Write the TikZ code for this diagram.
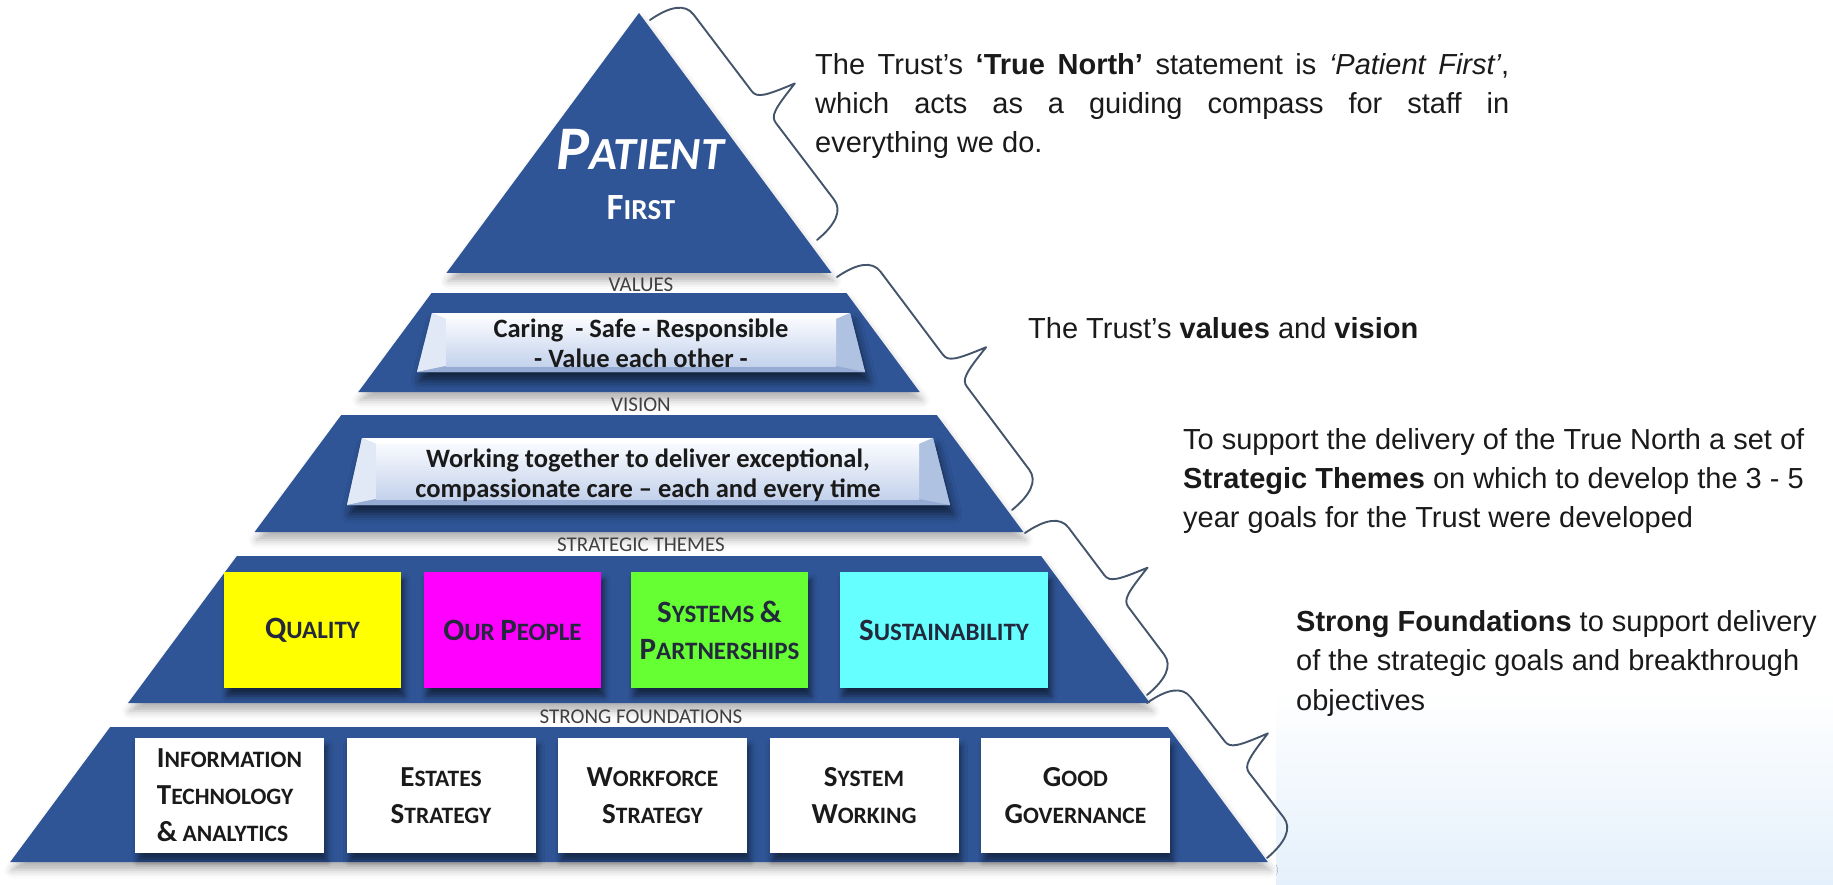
\documentclass[tikz,border=0pt]{standalone}
\usepackage{fontspec}
\setmainfont{Liberation Sans}
\newfontfamily\calib{Carlito}
\usetikzlibrary{shadows.blur}
\hbadness=10000 \hfuzz=5pt \vbadness=10000
\definecolor{pyr}{RGB}{47,85,151}
\definecolor{bracec}{RGB}{68,84,106}
\definecolor{txt}{RGB}{26,26,26}
\definecolor{lblc}{RGB}{64,64,64}
\definecolor{thtxt}{RGB}{35,40,60}
\definecolor{qual}{RGB}{255,255,0}
\definecolor{peop}{RGB}{255,0,255}
\definecolor{syst}{RGB}{102,255,51}
\definecolor{sust}{RGB}{102,255,255}
\definecolor{bgblue}{RGB}{228,240,251}
\definecolor{bevleft}{RGB}{226,233,246}
\definecolor{bevright}{RGB}{176,194,226}
\definecolor{bevbot}{RGB}{150,172,212}
\definecolor{facetop}{RGB}{248,250,254}
\definecolor{facebot}{RGB}{196,210,236}
\newcommand\thb[1]{{\fontsize{31}{37}\selectfont #1}}
\newcommand\fdb[1]{{\fontsize{29}{37}\selectfont #1}}
\newcommand\imgbrace[4]{%
  \pgfmathsetmacro\bdx{#3-#1}\pgfmathsetmacro\bdy{#4-#2}%
  \pgfmathsetmacro\bL{veclen(\bdx,\bdy)}%
  \pgfmathsetmacro\bux{\bdx/\bL}\pgfmathsetmacro\buy{\bdy/\bL}%
  \pgfmathsetmacro\bM{\bL/2}%
  \begin{scope}[shift={(#1,#2)}, x={(\bux pt,-\buy pt)}, y={(\buy pt,\bux pt)}]
    \draw[bracestyle] (0,0) .. controls (1,24) and (8,38) .. (22,38)
      -- ({\bM-20},38) .. controls ({\bM-11},38) and ({\bM-8},46) .. (\bM,77)
      .. controls ({\bM+8},46) and ({\bM+11},38) .. ({\bM+20},38)
      -- ({\bL-22},38) .. controls ({\bL-8},38) and ({\bL-1},24) .. (\bL,0);
  \end{scope}}
\newcommand\bevelbox[6]{% TLx TRx BRx BLx topy boty
  \path[fill=bevright, blur shadow={shadow xshift=3pt, shadow yshift=-9pt, shadow blur radius=9pt, shadow opacity=60}]
    (#1,#5) -- (#2,#5) -- (#3,#6) -- (#4,#6) -- cycle;
  \fill[white] (#1,#5) -- (#2,#5) -- ({#2-14},{#5+6}) -- ({#1+14},{#5+6}) -- cycle;
  \fill[bevleft] (#1,#5) -- ({#1+14},{#5+6}) -- ({#1+14},{#6-6}) -- (#4,#6) -- cycle;
  \fill[bevright] (#2,#5) -- (#3,#6) -- ({#2-14},{#6-6}) -- ({#2-14},{#5+6}) -- cycle;
  \fill[bevbot] (#4,#6) -- (#3,#6) -- ({#2-14},{#6-6}) -- ({#1+14},{#6-6}) -- cycle;
  \shade[top color=facetop, bottom color=facebot] ({#1+14},{#5+6}) rectangle ({#2-14},{#6-6});}
\tikzset{
  band/.style={fill=pyr, blur shadow={shadow xshift=2pt, shadow yshift=-8pt, shadow blur radius=8pt, shadow opacity=30}},
  lbl/.style={font=\calib\fontsize{21}{21}\selectfont, text=lblc, inner sep=0pt},
  boxtext/.style={font=\calib\bfseries\fontsize{26.5}{30}\selectfont, text=txt, align=center, inner sep=0pt},
  theme/.style={minimum width=177pt, minimum height=116pt, inner sep=0pt, text=thtxt, align=center,
    font=\calib\bfseries\fontsize{25}{37}\selectfont,
    blur shadow={shadow xshift=3pt, shadow yshift=-8pt, shadow blur radius=6pt, shadow opacity=55}},
  found/.style={fill=white, minimum width=189pt, minimum height=115pt, inner sep=0pt, text=txt, align=center,
    font=\calib\bfseries\fontsize{23.5}{37}\selectfont,
    blur shadow={shadow xshift=3pt, shadow yshift=-8pt, shadow blur radius=6pt, shadow opacity=50}},
  rtext/.style={text=txt, inner sep=0pt, anchor=base west},
  bracestyle/.style={draw=bracec, line width=1.9pt, line cap=round, line join=round}
}
\begin{document}
\begin{tikzpicture}[x=1pt,y=-1pt]
\useasboundingbox (0,0) rectangle (1833,885);
\shade[top color=white, bottom color=bgblue] (1276,690) rectangle (1833,885);
% pyramid bands
\path[band] (639,13) -- (831.6,273) -- (446.4,273) -- cycle;
\path[band] (431.6,293) -- (846.4,293) -- (919.7,392) -- (358.3,392) -- cycle;
\path[band] (341.3,415) -- (936.7,415) -- (1023.4,532) -- (254.6,532) -- cycle;
\path[band] (236.9,556) -- (1041.1,556) -- (1149.9,703) -- (128.1,703) -- cycle;
\path[band] (110.2,727) -- (1167.8,727) -- (1267.8,862) -- (10.2,862) -- cycle;
% top
\node[font=\calib\bfseries\itshape, text=white, inner sep=0pt, anchor=base] (patient) at (640,170)
  {{\fontsize{62}{62}\selectfont P}{\fontsize{46}{46}\selectfont ATIENT}};
\node[font=\calib\bfseries, text=white, inner sep=0pt, anchor=base] (first) at (641,220)
  {{\fontsize{37}{37}\selectfont F}{\fontsize{29}{29}\selectfont IRST}};
% labels
\node[lbl] (lvalues) at (641,285) {VALUES};
\node[lbl] (lvision) at (641,405) {VISION};
\node[lbl] (lthemes) at (641,545) {STRATEGIC THEMES};
\node[lbl] (lfound) at (641,717) {STRONG FOUNDATIONS};
% values and vision boxes
\bevelbox{432}{850}{865}{417}{313}{372}
\node[boxtext] (values) at (641,343) {Caring\ \ - Safe - Responsible\\- Value each other -};
\bevelbox{362}{933}{950}{347}{438}{505}
\node[boxtext] (vision) at (648,475) {Working together to deliver exceptional,\\compassionate care – each and every time};
% themes
\node[theme, fill=qual] (quality) at (312.5,630) {\thb{Q}UALITY};
\node[theme, fill=peop] (people) at (512.5,630) {\thb{O}UR \thb{P}EOPLE};
\node[theme, fill=syst] (systems) at (719.5,630) {\thb{S}YSTEMS \thb{\&}\\\thb{P}ARTNERSHIPS};
\node[theme, fill=sust, minimum width=208pt] (sustain) at (944,630) {\thb{S}USTAINABILITY};
% foundations
\node[found, align=left] (info) at (229.5,795.5) {\fdb{I}NFORMATION\\\fdb{T}ECHNOLOGY\\\fdb{\&} ANALYTICS};
\node[found] (estates) at (441,795.5) {\fdb{E}STATES\\\fdb{S}TRATEGY};
\node[found] (workforce) at (652.5,795.5) {\fdb{W}ORKFORCE\\\fdb{S}TRATEGY};
\node[found] (system) at (864,795.5) {\fdb{S}YSTEM\\\fdb{W}ORKING};
\node[found] (good) at (1075.5,795.5) {\fdb{G}OOD\\\fdb{G}OVERNANCE};
% right texts
\node[rtext, text width=694pt, align=justify, font=\fontsize{29}{39}\selectfont] (t1) at (815,75)
  {The Trust’s \textbf{‘True North’} statement is \textit{‘Patient First’},\linebreak which acts as a guiding compass for staff in\linebreak everything we do.};
\node[rtext, font=\fontsize{29}{39}\selectfont] (t2) at (1028,338) {The Trust’s \textbf{values} and \textbf{vision}};
\node[rtext, align=left, font=\fontsize{29}{39}\selectfont] (t3) at (1183,527)
  {To support the delivery of the True North a set of\\\textbf{Strategic Themes} on which to develop the 3 - 5\\year goals for the Trust were developed};
\node[rtext, align=left, font=\fontsize{29}{39.5}\selectfont] (t4) at (1296,710)
  {\textbf{Strong Foundations} to support delivery\\of the strategic goals and breakthrough\\objectives};
% braces
\imgbrace{650}{20}{817}{240}
\imgbrace{837}{277}{1012}{510}
\imgbrace{1025}{533}{1147}{695}
\imgbrace{1147}{703}{1267}{858}
\end{tikzpicture}
\end{document}
